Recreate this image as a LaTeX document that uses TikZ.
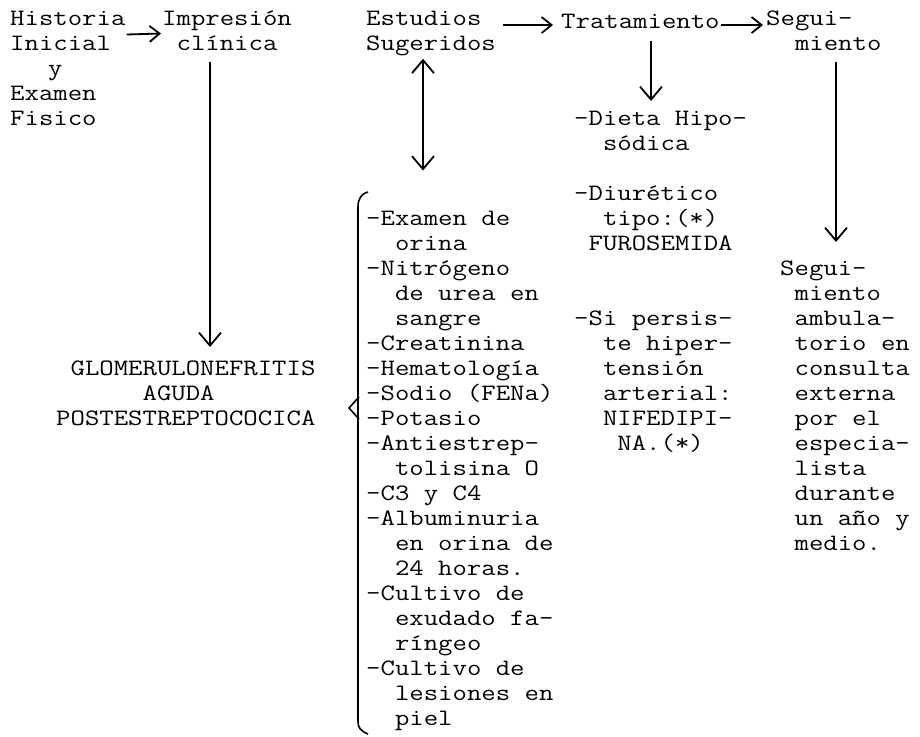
\documentclass[tikz,border=0pt]{standalone}
\usepackage{fontspec}
\setmonofont{Latin Modern Mono}[FakeStretch=1.19]
\usepackage{tikz}
\usetikzlibrary{arrows.meta}
\newcommand{\sangria}{\phantom{xx}}

\begin{document}
\begin{tikzpicture}[x = 1pt, y = -1pt,
	txt/.style = {anchor = north west, inner sep = 0pt, align = left, font = \ttfamily\fontsize{23.5}{25}\selectfont, execute at begin node = \strut},
	arr/.style = {line width = 1.8pt, -{Straight Barb[length = 13pt, width = 22pt]}},
	harr/.style = {line width = 1.8pt, -{Straight Barb[length = 10pt, width = 16pt]}},
	darr/.style = {line width = 1.8pt, {Straight Barb[length = 13pt, width = 22pt]}-{Straight Barb[length = 13pt, width = 22pt]}}]
			\useasboundingbox (0,0) rectangle (920,736);
			\node[txt] (hist) at (10,10.5) {Historia\\Inicial\\\hspace*{38pt}y\\Examen\\Fisico};
			\node[txt] (imp) at (162,10.5) {Impresión\\\phantom{x}clínica};
			\node[txt] (diag) at (56,360.5) {\phantom{x}GLOMERULONEFRITIS\\\phantom{xxxxxx}AGUDA\\POSTESTREPTOCOCICA};
			\node[txt] (est) at (366,10.5) {Estudios\\Sugeridos};
			\node[txt] (lab) at (366,210.5) {-Examen de\\\sangria orina\\-Nitrógeno\\\sangria de urea en\\\sangria sangre\\-Creatinina\\-Hematología\\-Sodio (FENa)\\-Potasio\\-Antiestrep-\\\sangria tolisina O\\-C3 y C4\\-Albuminuria\\\sangria en orina de\\\sangria 24 horas.\\-Cultivo de\\\sangria exudado fa-\\\sangria ríngeo\\-Cultivo de\\\sangria lesiones en\\\sangria piel};
			\node[txt] (trat) at (561,10.5) {Tratamiento};
			\node[txt] (dieta) at (574,110.5) {-Dieta Hipo-\\\sangria sódica};
			\node[txt] (diur) at (574,185.5) {-Diurético\\\sangria tipo:(*)\\\phantom{x}FUROSEMIDA};
			\node[txt] (nife) at (574,310.5) {-Si persis-\\\sangria te hiper-\\\sangria tensión\\\sangria arterial:\\\sangria NIFEDIPI-\\\phantom{xxx}NA.(*)};
			\node[txt] (seg) at (766,10.5) {Segui-\\\sangria miento};
			\node[txt] (segl) at (780,260.5) {Segui-\\\phantom{x}miento\\\phantom{x}ambula-\\\phantom{x}torio en\\\phantom{x}consulta\\\phantom{x}externa\\\phantom{x}por el\\\phantom{x}especia-\\\phantom{x}lista\\\phantom{x}durante\\\phantom{x}un año y\\\phantom{x}medio.};
			\draw[harr] ([xshift = 1pt, yshift = -24pt]hist.north east) -- ([xshift = -1pt, yshift = -23pt]imp.north west);
			\draw[arr] ([xshift = 48pt, yshift = -4pt]imp.south west) -- ([xshift = 154pt, yshift = 13.5pt]diag.north west);
			\draw[harr] ([xshift = 7pt, yshift = -14.5pt]est.north east) -- ([xshift = -8pt, yshift = -14.5pt]trat.north west);
			\draw[darr] ([xshift = 57pt, yshift = -1pt]est.south west) -- ([xshift = 57pt, yshift = 40pt]lab.north west);
			\draw[harr] ([xshift = 1pt, yshift = -14.5pt]trat.north east) -- ([xshift = -3pt, yshift = -14.5pt]seg.north west);
			\draw[arr] ([xshift = 90pt, yshift = -5pt]trat.south west) -- ([xshift = 77pt, yshift = 9.5pt]dieta.north west);
			\draw[arr] ([xshift = 70pt, yshift = -4pt]seg.south west) -- ([xshift = 56pt, yshift = 18.5pt]segl.north west);
			\draw[line width = 1.6pt] (368,192) .. controls (361,194) and (358,199) .. (358,207) -- (358,722) .. controls (358,728) and (361,731) .. (368,734);
			\draw[line width = 1.6pt] (359,397) -- (349,408) -- (359,419);
\end{tikzpicture}
\end{document}
